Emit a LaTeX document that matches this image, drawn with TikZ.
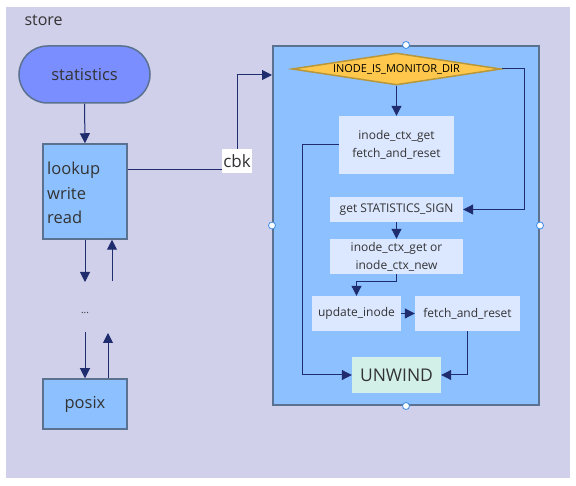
\documentclass[tikz,border=0pt]{standalone}
\usepackage{fontspec}
\setmainfont{Open Sans}
\usetikzlibrary{arrows.meta,shapes.geometric}
\definecolor{bgc}{HTML}{D0D0EA}
\definecolor{boxfill}{HTML}{8DC0FF}
\definecolor{boxdraw}{HTML}{5B7190}
\definecolor{statfill}{HTML}{7B8EFF}
\definecolor{lightfill}{HTML}{DCE8FF}
\definecolor{mintfill}{HTML}{D2F0E8}
\definecolor{decfill}{HTML}{FFC84C}
\definecolor{decdraw}{HTML}{B8973A}
\definecolor{arrc}{HTML}{1F2D6E}
\definecolor{txt}{HTML}{333333}
\definecolor{handlec}{HTML}{3C8CE6}
\begin{document}
\begin{tikzpicture}[x=1pt,y=-1pt,
  outerbox/.style={draw=boxdraw, fill=boxfill, line width=1.5pt, inner sep=0pt, text=txt},
  lightbox/.style={fill=lightfill, inner sep=0pt, text=txt, align=center, font=\fontsize{12}{18}\selectfont},
  arr/.style={draw=arrc, line width=1pt, -{Triangle[length=10pt,width=10pt]}},
  handle/.style={circle, draw=handlec, fill=white, line width=0.8pt, inner sep=0pt, minimum size=7pt}
]
\useasboundingbox (0,0) rectangle (576,486);
\fill[white] (0,0) rectangle (576,486);
\fill[bgc] (6,7) rectangle (570,478);
\node[anchor=west, text=txt, font=\fontsize{16}{20}\selectfont] (store) at (21,20) {store};

% left column
\node[outerbox, fill=statfill, rounded corners=28.5pt, minimum width=131pt, minimum height=57pt,
  font=\fontsize{16.5}{20}\selectfont] (stat) at (84.5,74.5) {statistics};
\node[outerbox, minimum width=84pt, minimum height=95pt] (lookup) at (85,191.5) {};
\node[anchor=west, align=left, text=txt, inner sep=0pt, font=\fontsize{16.5}{24.5}\selectfont] (lwr) at (47,193) {lookup\\write\\read};
\node[text=txt, font=\fontsize{10}{12}\selectfont, inner sep=0pt] (dots) at (85,313) {...};
\node[outerbox, minimum width=84pt, minimum height=50pt, font=\fontsize{16.5}{20}\selectfont] (posix) at (85,404) {posix};

\coordinate (d1) at (85,282);
\coordinate (u1) at (112,281);
\coordinate (d2) at (85,332);
\coordinate (u2) at (108,333);
\draw[arr] (stat.south) -- (lookup.north);
\draw[arr] (lookup.south) -- (d1);
\draw[arr] (u1) -- (u1 |- lookup.south);
\draw[arr] (d2) -- (posix.north);
\draw[arr] (u2 |- posix.north) -- (u2);

% container
\node[draw=boxdraw, fill=boxfill, line width=2pt, inner sep=0pt, minimum width=266pt, minimum height=359pt] (cont) at (406,225.5) {};

% cbk connector
\coordinate (cbkcorner) at (237,170);
\draw[arr] (lookup.east |- cbkcorner) -- (cbkcorner) |- (cont.west |- 0,75);
\node[fill=white, inner sep=0pt, minimum width=30pt, minimum height=24pt, text=txt, font=\fontsize{17}{20}\selectfont] (cbk) at (237,161) {cbk};

% inside container
\node[diamond, aspect=6, minimum width=209pt, minimum height=32pt, inner sep=0pt,
  fill=decfill, draw=decdraw, line width=1.5pt, text=black, font=\fontsize{11}{13}\selectfont] (dec) at (396.5,69) {INODE\_IS\_MONITOR\_DIR};
\node[lightbox, minimum width=115pt, minimum height=58pt] (b1) at (396.5,145) {inode\_ctx\_get\\fetch\_and\_reset};
\node[lightbox, minimum width=133pt, minimum height=25pt] (b2) at (396.5,209.5) {get STATISTICS\_SIGN};
\node[lightbox, minimum width=133pt, minimum height=35pt] (b3) at (396.5,256.5) {inode\_ctx\_get or\\inode\_ctx\_new};
\node[lightbox, minimum width=89pt, minimum height=35pt] (b4) at (356.5,313.5) {update\_inode};
\node[lightbox, minimum width=105pt, minimum height=35pt] (b5) at (467.5,313.5) {fetch\_and\_reset};
\node[lightbox, fill=mintfill, minimum width=89pt, minimum height=36pt, font=\fontsize{17.5}{20}\selectfont] (unw) at (396.5,375) {UNWIND};

\draw[arr] (dec.south) -- (b1.north);
\draw[arr] (dec.east) -- ++(23,0) |- (b2.east);
\draw[arr] (b1.west) -- ++(-36,0) |- (unw.west);
\draw[arr] (b2.south) -- (b3.north);
\draw[arr] (b3.south) -- ++(0,7) -| (b4.north);
\draw[arr] (b4.east) -- (b5.west);
\draw[arr] (b5.south) |- (unw.east);

% selection handles
\node[handle] (hn) at (cont.north) {};
\node[handle] (hs) at (cont.south) {};
\node[handle] (hw) at (cont.west) {};
\node[handle] (he) at (cont.east) {};
\end{tikzpicture}
\end{document}
